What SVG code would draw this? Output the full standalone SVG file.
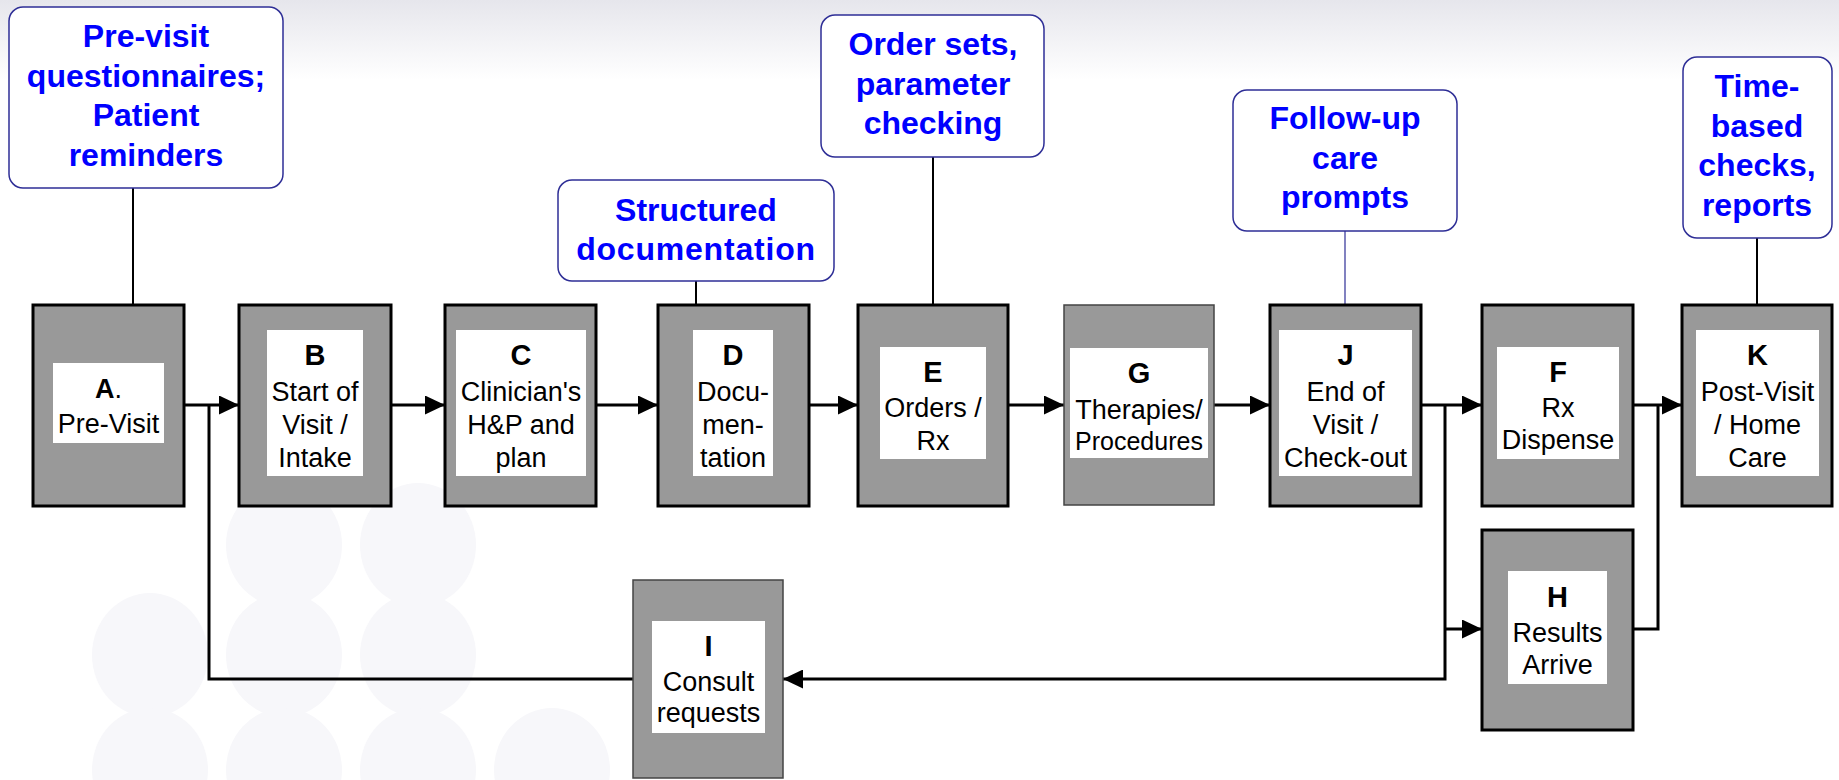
<svg xmlns="http://www.w3.org/2000/svg" width="1839" height="780" viewBox="0 0 1839 780">
<defs>
<linearGradient id="topg" x1="0" y1="0" x2="0" y2="1">
<stop offset="0" stop-color="#e6e6ec"/>
<stop offset="1" stop-color="#ffffff"/>
</linearGradient>
<marker id="arr" markerUnits="userSpaceOnUse" markerWidth="20" markerHeight="19" refX="20" refY="9.5" orient="auto">
<path d="M0,0 L20,9.5 L0,19 Z" fill="#000"/>
</marker>
<style>
.box{fill:#999999;stroke:#000;stroke-width:3}
.boxt{fill:#999999;stroke:#444;stroke-width:1.5}
.inner{fill:#fff}
.lt{font-family:"Liberation Sans",Arial,sans-serif;font-weight:bold;font-size:29px;text-anchor:middle;fill:#000}
.tx{font-family:"Liberation Sans",Arial,sans-serif;font-size:27px;text-anchor:middle;fill:#000}
.call{fill:#fff;stroke:#2e2e96;stroke-width:1.5}
.ct{font-family:"Liberation Sans",Arial,sans-serif;font-weight:bold;font-size:32px;text-anchor:middle;fill:#0000ff}
.conn{fill:none;stroke:#000;stroke-width:3}
.lead{fill:none;stroke:#000;stroke-width:2}
.bg{fill:#f7f7fa}
</style>
</defs>
<rect x="0" y="0" width="1839" height="780" fill="#fff"/>
<rect x="0" y="0" width="1839" height="80" fill="url(#topg)"/>
<g id="background-dots">
<ellipse class="bg" cx="284" cy="545" rx="58" ry="62"/>
<ellipse class="bg" cx="418" cy="545" rx="58" ry="62"/>
<ellipse class="bg" cx="150" cy="655" rx="58" ry="62"/>
<ellipse class="bg" cx="284" cy="655" rx="58" ry="62"/>
<ellipse class="bg" cx="418" cy="655" rx="58" ry="62"/>
<ellipse class="bg" cx="150" cy="770" rx="58" ry="62"/>
<ellipse class="bg" cx="284" cy="770" rx="58" ry="62"/>
<ellipse class="bg" cx="418" cy="770" rx="58" ry="62"/>
<ellipse class="bg" cx="552" cy="770" rx="58" ry="62"/>
</g>

<g id="connectors">
<path class="lead" d="M147,184 H133 V305"/>
<path class="lead" d="M696,277 V305"/>
<path class="lead" d="M933,151 V305"/>
<path fill="none" stroke="#2e2e96" stroke-width="1.2" d="M1345,231 V305"/>
<path class="lead" d="M1757,232 V305"/>
<path class="conn" d="M184,405 H239" marker-end="url(#arr)"/>
<path class="conn" d="M633,679 H209 V405"/>
<path class="conn" d="M391,405 H445" marker-end="url(#arr)"/>
<path class="conn" d="M596,405 H658" marker-end="url(#arr)"/>
<path class="conn" d="M809,405 H858" marker-end="url(#arr)"/>
<path class="conn" d="M1008,405 H1064" marker-end="url(#arr)"/>
<path class="conn" d="M1214,405 H1270" marker-end="url(#arr)"/>
<path class="conn" d="M1421,405 H1482" marker-end="url(#arr)"/>
<path class="conn" d="M1445,405 V679 H783" marker-end="url(#arr)"/>
<path class="conn" d="M1445,629 H1482" marker-end="url(#arr)"/>
<path class="conn" d="M1633,405 H1682" marker-end="url(#arr)"/>
<path class="conn" d="M1633,629 H1658 V405"/>
</g>

<g id="callout-previsit">
<rect class="call" x="9" y="7" width="274" height="181" rx="14"/>
<text class="ct" x="146" y="47">Pre-visit</text>
<text class="ct" x="146" y="86.5">questionnaires;</text>
<text class="ct" x="146" y="126">Patient</text>
<text class="ct" x="146" y="165.5">reminders</text>
</g>
<g id="callout-structured">
<rect class="call" x="558" y="180" width="276" height="101" rx="14"/>
<text class="ct" x="696" y="221">Structured</text>
<text class="ct" x="696" y="260" style="letter-spacing:0.8px">documentation</text>
</g>
<g id="callout-ordersets">
<rect class="call" x="821" y="15" width="223" height="142" rx="14"/>
<text class="ct" x="933" y="55">Order sets,</text>
<text class="ct" x="933" y="94.5">parameter</text>
<text class="ct" x="933" y="134">checking</text>
</g>
<g id="callout-followup">
<rect class="call" x="1233" y="90" width="224" height="141" rx="14"/>
<text class="ct" x="1345" y="129">Follow-up</text>
<text class="ct" x="1345" y="168.5">care</text>
<text class="ct" x="1345" y="208">prompts</text>
</g>
<g id="callout-timebased">
<rect class="call" x="1683" y="57" width="149" height="181" rx="14"/>
<text class="ct" x="1757" y="97">Time-</text>
<text class="ct" x="1757" y="136.5">based</text>
<text class="ct" x="1757" y="176">checks,</text>
<text class="ct" x="1757" y="215.5">reports</text>
</g>

<g id="node-A">
<rect class="box" x="33" y="305" width="151" height="201"/>
<rect class="inner" x="53" y="363" width="111" height="80"/>
<text class="tx" x="108.5" y="397.5"><tspan style="font-weight:bold">A</tspan>.</text>
<text class="tx" x="108.5" y="433">Pre-Visit</text>
</g>
<g id="node-B">
<rect class="box" x="239" y="305" width="152" height="201"/>
<rect class="inner" x="267" y="330" width="96" height="146"/>
<text class="lt" x="315" y="365">B</text>
<text class="tx" x="315" y="401">Start of</text>
<text class="tx" x="315" y="434">Visit /</text>
<text class="tx" x="315" y="467">Intake</text>
</g>
<g id="node-C">
<rect class="box" x="445" y="305" width="151" height="201"/>
<rect class="inner" x="456" y="330" width="130" height="146"/>
<text class="lt" x="521" y="365">C</text>
<text class="tx" x="521" y="401">Clinician's</text>
<text class="tx" x="521" y="434">H&amp;P and</text>
<text class="tx" x="521" y="467">plan</text>
</g>
<g id="node-D">
<rect class="box" x="658" y="305" width="151" height="201"/>
<rect class="inner" x="693" y="330" width="80" height="146"/>
<text class="lt" x="733" y="365">D</text>
<text class="tx" x="733" y="401">Docu-</text>
<text class="tx" x="733" y="434">men-</text>
<text class="tx" x="733" y="467">tation</text>
</g>
<g id="node-E">
<rect class="box" x="858" y="305" width="150" height="201"/>
<rect class="inner" x="880" y="347" width="106" height="112"/>
<text class="lt" x="933" y="382">E</text>
<text class="tx" x="933" y="417">Orders /</text>
<text class="tx" x="933" y="450">Rx</text>
</g>
<g id="node-G">
<rect class="boxt" x="1064" y="305" width="150" height="200"/>
<rect class="inner" x="1070" y="348" width="138" height="110"/>
<text class="lt" x="1139" y="383">G</text>
<text class="tx" x="1139" y="419">Therapies/</text>
<text class="tx" x="1139" y="450" style="font-size:25px">Procedures</text>
</g>
<g id="node-J">
<rect class="box" x="1270" y="305" width="151" height="201"/>
<rect class="inner" x="1279" y="330" width="133" height="146"/>
<text class="lt" x="1345.5" y="365">J</text>
<text class="tx" x="1345.5" y="401">End of</text>
<text class="tx" x="1345.5" y="434">Visit /</text>
<text class="tx" x="1345.5" y="467">Check-out</text>
</g>
<g id="node-F">
<rect class="box" x="1482" y="305" width="151" height="201"/>
<rect class="inner" x="1497" y="347" width="122" height="112"/>
<text class="lt" x="1558" y="382">F</text>
<text class="tx" x="1558" y="417">Rx</text>
<text class="tx" x="1558" y="449">Dispense</text>
</g>
<g id="node-K">
<rect class="box" x="1682" y="305" width="150" height="201"/>
<rect class="inner" x="1696" y="330" width="123" height="146"/>
<text class="lt" x="1757.5" y="365">K</text>
<text class="tx" x="1757.5" y="401">Post-Visit</text>
<text class="tx" x="1757.5" y="434">/ Home</text>
<text class="tx" x="1757.5" y="467">Care</text>
</g>
<g id="node-H">
<rect class="box" x="1482" y="530" width="151" height="200"/>
<rect class="inner" x="1508" y="571" width="99" height="113"/>
<text class="lt" x="1557.5" y="607">H</text>
<text class="tx" x="1557.5" y="642">Results</text>
<text class="tx" x="1557.5" y="674">Arrive</text>
</g>
<g id="node-I">
<rect class="boxt" x="633" y="580" width="150" height="198"/>
<rect class="inner" x="652" y="621" width="113" height="112"/>
<text class="lt" x="708.5" y="656">I</text>
<text class="tx" x="708.5" y="691">Consult</text>
<text class="tx" x="708.5" y="722">requests</text>
</g>
</svg>
